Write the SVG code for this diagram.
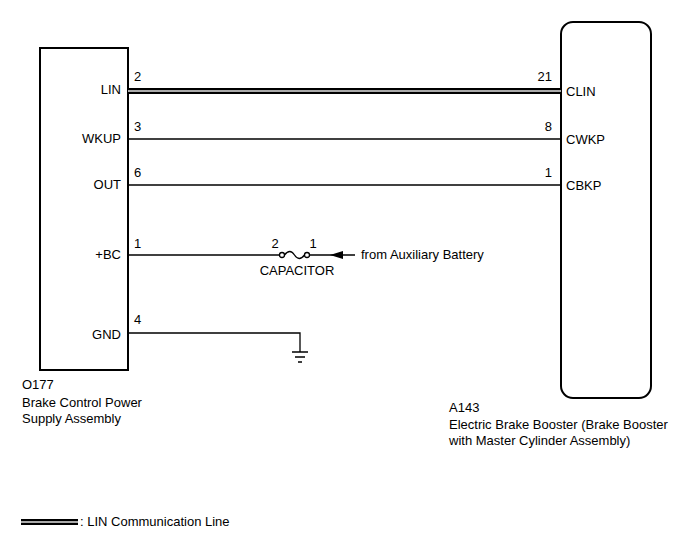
<svg xmlns="http://www.w3.org/2000/svg" width="688" height="560" viewBox="0 0 688 560">
<style>
text{font-family:"Liberation Sans",Arial,sans-serif;font-size:13px;fill:#000}
.w{stroke:#000;stroke-width:1.3;fill:none}
.e{text-anchor:end}
</style>
<rect width="688" height="560" fill="#fff"/>
<g id="o177">
<rect x="40" y="48" width="88" height="322" fill="#fff" stroke="#000" stroke-width="2"/>
<text x="121" y="94" class="e">LIN</text>
<text x="121" y="143" class="e">WKUP</text>
<text x="121" y="189" class="e">OUT</text>
<text x="121" y="259" class="e">+BC</text>
<text x="121" y="339" class="e">GND</text>
<text x="22" y="389">O177</text>
<text x="22" y="407">Brake Control Power</text>
<text x="22" y="423">Supply Assembly</text>
</g>
<g id="a143">
<rect x="561" y="22" width="90" height="376" rx="12" fill="#fff" stroke="#000" stroke-width="2"/>
<text x="566" y="96">CLIN</text>
<text x="566" y="144">CWKP</text>
<text x="566" y="190">CBKP</text>
<text x="449" y="412">A143</text>
<text x="449" y="429">Electric Brake Booster (Brake Booster</text>
<text x="449" y="445">with Master Cylinder Assembly)</text>
</g>
<g id="capacitor">
<circle cx="282" cy="255" r="2.5" class="w" fill="#fff"/>
<circle cx="307" cy="255" r="2.5" class="w" fill="#fff"/>
<path d="M284.5,255 Q290,248 294.5,255 Q299,262 304.5,255" class="w"/>
<text x="275" y="248" text-anchor="middle">2</text>
<text x="313" y="248" text-anchor="middle">1</text>
<text x="297" y="275" text-anchor="middle">CAPACITOR</text>
</g>
<g id="ground">
<path d="M292,352 H308 M295,357 H305 M298,362 H302" class="w"/>
</g>
<g id="connectors">
<line x1="128" y1="91" x2="561" y2="91" stroke="#000" stroke-width="6"/>
<line x1="128" y1="91" x2="561" y2="91" stroke="#aaa" stroke-width="2"/>
<line x1="128" y1="139" x2="561" y2="139" class="w"/>
<line x1="128" y1="185" x2="561" y2="185" class="w"/>
<line x1="128" y1="255" x2="279.5" y2="255" class="w"/>
<line x1="309.5" y1="255" x2="355" y2="255" class="w"/>
<path d="M330,255 L343,251 L343,259 Z" fill="#000"/>
<path d="M128,333 H300 V352" class="w"/>
<text x="134" y="81">2</text><text x="552" y="81" class="e">21</text>
<text x="134" y="131">3</text><text x="552" y="131" class="e">8</text>
<text x="134" y="177">6</text><text x="552" y="177" class="e">1</text>
<text x="134" y="248">1</text>
<text x="134" y="324">4</text>
<text x="361" y="259">from Auxiliary Battery</text>
</g>
<g id="legend">
<line x1="21" y1="522" x2="78" y2="522" stroke="#000" stroke-width="6"/>
<line x1="21" y1="522" x2="78" y2="522" stroke="#aaa" stroke-width="2"/>
<text x="80" y="526">: LIN Communication Line</text>
</g>
</svg>
